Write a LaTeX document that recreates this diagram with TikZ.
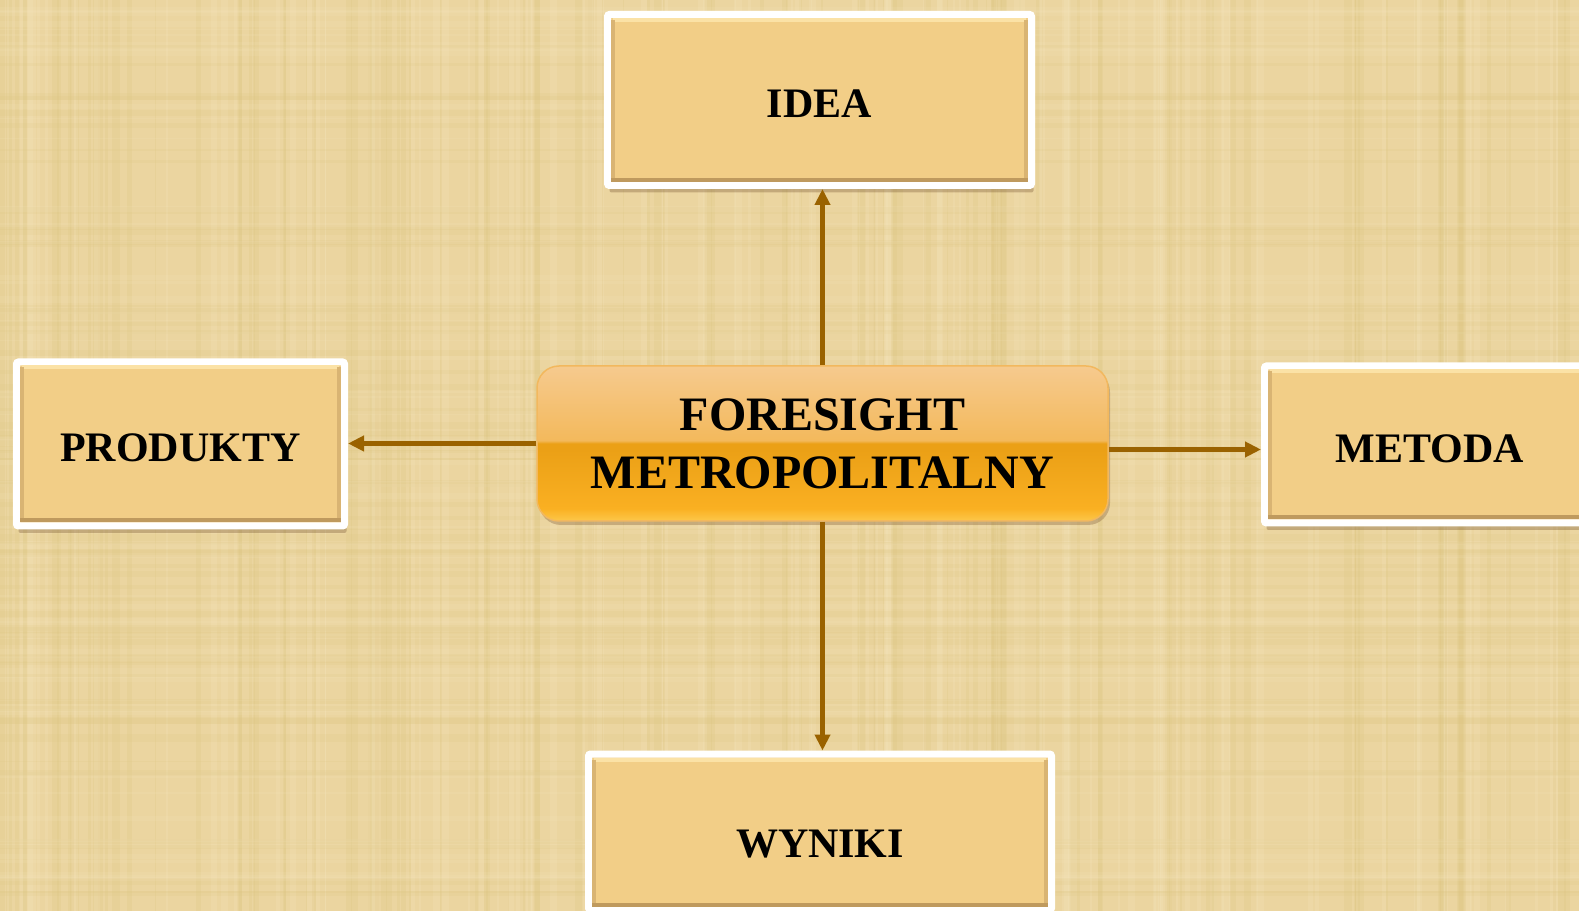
\documentclass[tikz,border=0pt]{standalone}
\usepackage{fontspec}
\setmainfont{Liberation Serif}
\usetikzlibrary{arrows.meta,shadows}

\definecolor{paper}{HTML}{EBD5A0}
\definecolor{weavelight}{HTML}{F6E6BE}
\definecolor{weavedark}{HTML}{DCC47E}
\definecolor{boxfill}{HTML}{F2CE87}
\definecolor{bevelhi}{HTML}{FBE2A6}
\definecolor{bevellow}{HTML}{BF9A5E}
\definecolor{bevelside}{HTML}{D9B473}
\definecolor{arrowbrown}{HTML}{9A6200}
\definecolor{hubtop}{HTML}{F6CA8E}
\definecolor{hubupper}{HTML}{F3B95C}
\definecolor{hubband}{HTML}{EBA016}
\definecolor{huborange}{HTML}{FAB022}
\definecolor{hubbot}{HTML}{FCC84A}
\definecolor{hubedge}{HTML}{F2B85E}

\pgfdeclareverticalshading{glossy}{100bp}{color(0bp)=(hubbot); color(25bp)=(hubbot);
  color(29bp)=(huborange); color(48bp)=(hubband); color(50bp)=(hubband);
  color(51bp)=(hubupper); color(75bp)=(hubtop); color(100bp)=(hubtop)}

\begin{document}
\begin{tikzpicture}[x=1pt,y=1pt,
  box/.style={draw=white, line width=7pt, rounded corners=2pt, fill=boxfill, inner sep=0pt,
    font=\fontsize{42}{50}\selectfont\bfseries, text height=36pt,
    drop shadow={shadow xshift=2pt, shadow yshift=-7pt, opacity=.3, fill=brown!55!black}},
  hub/.style={rounded corners=22pt, shading=glossy, draw=hubedge, line width=1.5pt,
    align=center, inner sep=0pt, font=\fontsize{48}{58}\selectfont\bfseries,
    minimum width=571pt, minimum height=155pt,
    drop shadow={shadow xshift=2pt, shadow yshift=-4pt, opacity=.3, fill=brown!60!black}},
  flow/.style={-{Triangle[length=16pt,width=15pt]}, line width=5pt, draw=arrowbrown},
  bevellight/.style={draw=bevelhi, line width=4pt},
  beveldark/.style={draw=bevellow, line width=4pt},
  bevelmid/.style={draw=bevelside, line width=4pt}]

\useasboundingbox (0,0) rectangle (1579,911);
\clip (0,0) rectangle (1579,911);
\fill[paper] (0,0) rectangle (1579,911);

% Woven paper texture
\pgfmathsetseed{11}
\foreach \i in {1,...,220}{
  \pgfmathsetmacro{\px}{1579*rnd}
  \pgfmathsetmacro{\pw}{1+7*rnd}
  \pgfmathsetmacro{\pc}{rnd>0.5 ? "weavelight" : "weavedark"}
  \draw[\pc, line width=\pw pt, opacity=.22] (\px,0) -- (\px,911);
}
\foreach \i in {1,...,140}{
  \pgfmathsetmacro{\py}{911*rnd}
  \pgfmathsetmacro{\pw}{1+6*rnd}
  \pgfmathsetmacro{\pc}{rnd>0.5 ? "weavelight" : "weavedark"}
  \draw[\pc, line width=\pw pt, opacity=.15] (0,\py) -- (1579,\py);
}

% The four boxes round the centre
\node[box, minimum width=424pt, minimum height=171pt] (idea) at (819.5,811) {IDEA};
\node[box, minimum width=328pt, minimum height=164pt] (produkty) at (180.5,467) {PRODUKTY};
\node[box, minimum width=331pt, minimum height=157pt] (metoda) at (1430,466.5) {METODA};
\node[box, minimum width=463pt, minimum height=156pt, text height=52pt] (wyniki) at (820,79) {WYNIKI};

% Bevelled inner edges
\foreach \n in {idea,produkty,metoda,wyniki}{
  \draw[bevellight] ([shift={(9pt,-9pt)}]\n.north west) -- ([shift={(-9pt,-9pt)}]\n.north east);
  \draw[bevelmid] ([shift={(-9pt,-9pt)}]\n.north east) -- ([shift={(-9pt,9pt)}]\n.south east);
  \draw[bevelmid] ([shift={(9pt,-9pt)}]\n.north west) -- ([shift={(9pt,9pt)}]\n.south west);
  \draw[beveldark] ([shift={(7pt,9pt)}]\n.south west) -- ([shift={(-7pt,9pt)}]\n.south east);
}

% The centre
\node[hub] (hub) at (822.5,467.5) {FORESIGHT\\METROPOLITALNY};

% Arrows out of the centre
\draw[flow] (hub.north) -- (hub.north |- idea.south);
\draw[flow] (hub.south) -- (hub.south |- wyniki.north);
\draw[flow] (hub.west) -- (hub.west -| produkty.east);
\draw[flow] ([yshift=-6pt]hub.east) -- ([yshift=-6pt]hub.east -| metoda.west);

\end{tikzpicture}
\end{document}
